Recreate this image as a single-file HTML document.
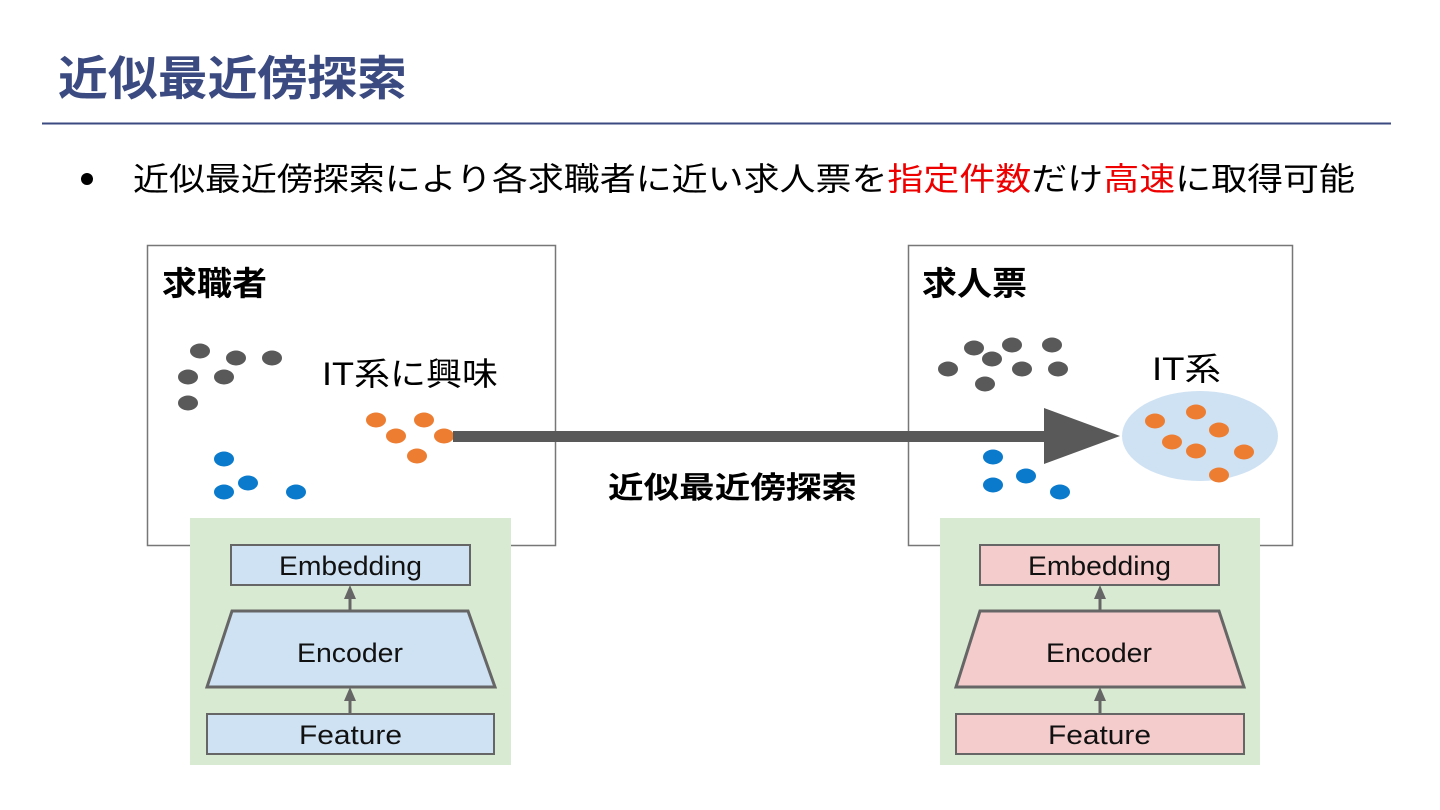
<!DOCTYPE html>
<html><head><meta charset="utf-8"><style>body{margin:0;background:#fff}svg{display:block}</style></head>
<body>
<svg width="1440" height="810" viewBox="0 0 1440 810" xmlns="http://www.w3.org/2000/svg" font-family="'Liberation Sans','Noto Sans CJK JP',sans-serif">
<text x="58" y="95" font-size="47" font-weight="bold" fill="#3b4a80" textLength="349" lengthAdjust="spacingAndGlyphs">近似最近傍探索</text>
<line x1="42" y1="123.5" x2="1391" y2="123.5" stroke="#3b4a80" stroke-width="2"/>
<circle cx="87" cy="179" r="6" fill="#000"/>
<text x="133" y="190" font-size="32" fill="#000" textLength="1222" lengthAdjust="spacingAndGlyphs">近似最近傍探索により各求職者に近い求人票を<tspan fill="#e00">指定件数</tspan>だけ<tspan fill="#e00">高速</tspan>に取得可能</text>

<!-- left box -->
<rect x="147.5" y="245.5" width="408" height="300" fill="#fff" stroke="#777" stroke-width="1.5"/>
<text x="162" y="295" font-size="33" font-weight="bold" fill="#000" textLength="105" lengthAdjust="spacingAndGlyphs">求職者</text>
<g fill="#595959">
<ellipse cx="200" cy="351" rx="10" ry="7.5"/><ellipse cx="236" cy="358" rx="10" ry="7.5"/><ellipse cx="272" cy="358" rx="10" ry="7.5"/>
<ellipse cx="188" cy="377" rx="10" ry="7.5"/><ellipse cx="224" cy="377" rx="10" ry="7.5"/><ellipse cx="188" cy="403" rx="10" ry="7.5"/>
</g>
<g fill="#ed7d31">
<ellipse cx="376" cy="420" rx="10" ry="7.5"/><ellipse cx="424" cy="420" rx="10" ry="7.5"/><ellipse cx="396" cy="436" rx="10" ry="7.5"/>
<ellipse cx="444" cy="436" rx="10" ry="7.5"/><ellipse cx="417" cy="456" rx="10" ry="7.5"/>
</g>
<g fill="#0a7acc">
<ellipse cx="224" cy="459" rx="10" ry="7.5"/><ellipse cx="248" cy="483" rx="10" ry="7.5"/><ellipse cx="224" cy="492" rx="10" ry="7.5"/><ellipse cx="296" cy="492" rx="10" ry="7.5"/>
</g>
<text x="322" y="385" font-size="32" fill="#000" textLength="176" lengthAdjust="spacingAndGlyphs">IT系に興味</text>

<!-- right box -->
<rect x="908.5" y="245.5" width="384" height="300" fill="#fff" stroke="#777" stroke-width="1.5"/>
<text x="922" y="295" font-size="33" font-weight="bold" fill="#000" textLength="105" lengthAdjust="spacingAndGlyphs">求人票</text>
<ellipse cx="1200" cy="436" rx="78" ry="45" fill="#cfe2f3"/>
<g fill="#595959">
<ellipse cx="974" cy="348" rx="10" ry="7.5"/><ellipse cx="1012" cy="345" rx="10" ry="7.5"/><ellipse cx="1052" cy="345" rx="10" ry="7.5"/>
<ellipse cx="948" cy="369" rx="10" ry="7.5"/><ellipse cx="992" cy="359" rx="10" ry="7.5"/><ellipse cx="1022" cy="369" rx="10" ry="7.5"/>
<ellipse cx="1058" cy="369" rx="10" ry="7.5"/><ellipse cx="985" cy="384" rx="10" ry="7.5"/>
</g>
<g fill="#ed7d31">
<ellipse cx="1155" cy="421" rx="10" ry="7.5"/><ellipse cx="1196" cy="412" rx="10" ry="7.5"/><ellipse cx="1219" cy="430" rx="10" ry="7.5"/>
<ellipse cx="1172" cy="442" rx="10" ry="7.5"/><ellipse cx="1196" cy="451" rx="10" ry="7.5"/><ellipse cx="1244" cy="452" rx="10" ry="7.5"/>
<ellipse cx="1219" cy="475" rx="10" ry="7.5"/>
</g>
<g fill="#0a7acc">
<ellipse cx="993" cy="457" rx="10" ry="7.5"/><ellipse cx="1026" cy="476" rx="10" ry="7.5"/><ellipse cx="993" cy="485" rx="10" ry="7.5"/><ellipse cx="1060" cy="492" rx="10" ry="7.5"/>
</g>
<text x="1152" y="380" font-size="32" fill="#000" textLength="69" lengthAdjust="spacingAndGlyphs">IT系</text>

<!-- big arrow -->
<rect x="453" y="431" width="595" height="11" fill="#595959"/>
<polygon points="1044,408 1120,436 1044,464" fill="#595959"/>
<text x="608" y="498" font-size="30" font-weight="bold" fill="#000" textLength="249" lengthAdjust="spacingAndGlyphs">近似最近傍探索</text>

<!-- left encoder -->
<rect x="190" y="518" width="321" height="247" fill="#d9ead3"/>
<g stroke="#666" stroke-width="2" fill="#cfe2f3">
<rect x="231" y="545" width="239" height="40"/>
<polygon points="232,611 468,611 495,687 207,687" stroke-width="3"/>
<rect x="207" y="714" width="287" height="40"/>
</g>
<g stroke="#666" stroke-width="3"><line x1="350" y1="611" x2="350" y2="597"/><line x1="350" y1="714" x2="350" y2="700"/></g>
<g fill="#666"><polygon points="344,599 356,599 350,585"/><polygon points="344,701 356,701 350,687"/></g>
<g font-size="27" fill="#111">
<text x="279" y="575" textLength="143" lengthAdjust="spacingAndGlyphs">Embedding</text><text x="297" y="662" textLength="106" lengthAdjust="spacingAndGlyphs">Encoder</text><text x="299" y="744" textLength="103" lengthAdjust="spacingAndGlyphs">Feature</text>
</g>

<!-- right encoder -->
<rect x="940" y="518" width="320" height="247" fill="#d9ead3"/>
<g stroke="#666" stroke-width="2" fill="#f4cccc">
<rect x="980" y="545" width="239" height="40"/>
<polygon points="980,611 1219,611 1244,687 956,687" stroke-width="3"/>
<rect x="956" y="714" width="288" height="40"/>
</g>
<g stroke="#666" stroke-width="3"><line x1="1100" y1="611" x2="1100" y2="597"/><line x1="1100" y1="714" x2="1100" y2="700"/></g>
<g fill="#666"><polygon points="1094,599 1106,599 1100,585"/><polygon points="1094,701 1106,701 1100,687"/></g>
<g font-size="27" fill="#111">
<text x="1028" y="575" textLength="143" lengthAdjust="spacingAndGlyphs">Embedding</text><text x="1046" y="662" textLength="106" lengthAdjust="spacingAndGlyphs">Encoder</text><text x="1048" y="744" textLength="103" lengthAdjust="spacingAndGlyphs">Feature</text>
</g>
</svg>
</body></html>
